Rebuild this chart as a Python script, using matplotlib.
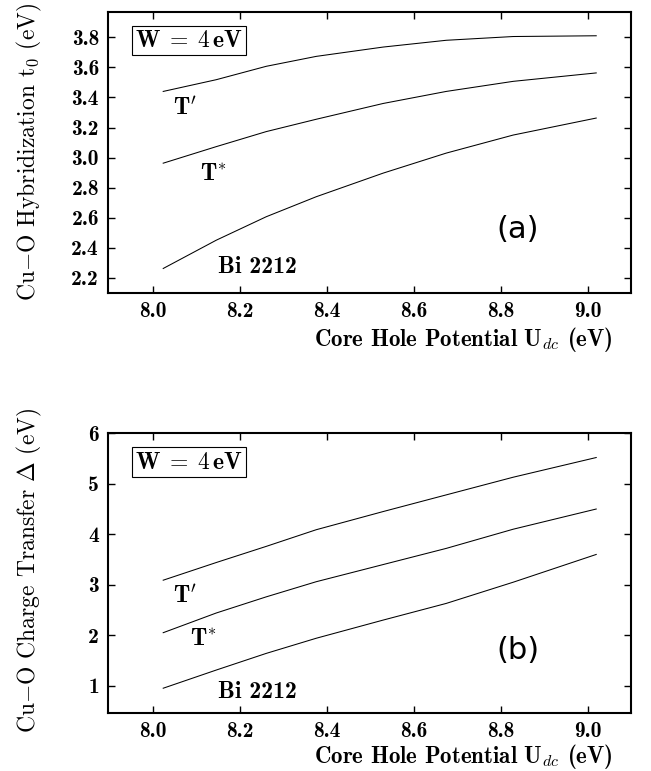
import matplotlib
matplotlib.use("Agg")
import matplotlib.pyplot as plt
import numpy as np

plt.rcParams['mathtext.fontset'] = 'cm'

# x values (core hole potential, eV)
u_dc = [8.024, 8.146, 8.261, 8.376, 8.53, 8.675, 8.829, 9.02]

# panel (a): Cu-O hybridization t0
t0_Tprime = [3.44, 3.518, 3.607, 3.673, 3.735, 3.78, 3.805, 3.81]
t0_Tstar = [2.963, 3.073, 3.173, 3.255, 3.36, 3.44, 3.507, 3.563]
t0_Bi2212 = [2.263, 2.451, 2.607, 2.74, 2.897, 3.03, 3.15, 3.263]

# panel (b): Cu-O charge transfer Delta
d_Tprime = [3.09, 3.44, 3.76, 4.09, 4.45, 4.78, 5.13, 5.52]
d_Tstar = [2.05, 2.44, 2.76, 3.06, 3.40, 3.72, 4.10, 4.50]
d_Bi2212 = [0.95, 1.31, 1.64, 1.94, 2.30, 2.63, 3.05, 3.60]

xticks = [8.0, 8.2, 8.4, 8.6, 8.8, 9.0]
xticklabels = ['8.0', '8.2', '8.4', '8.6', '8.8', '9.0']
yticks_a = [2.2, 2.4, 2.6, 2.8, 3.0, 3.2, 3.4, 3.6, 3.8]
yticklabels_a = ['2.2', '2.4', '2.6', '2.8', '3.0', '3.2', '3.4', '3.6', '3.8']
yticks_b = [1, 2, 3, 4, 5, 6]
yticklabels_b = ['1', '2', '3', '4', '5', '6']

W = 651
H = 771
fig = plt.figure(figsize=(W / 100, H / 100), dpi=100)

def frac(l, t, r, b):
    return [l / W, 1 - b / H, (r - l) / W, (b - t) / H]

ax_a = fig.add_axes(frac(108, 11.7, 631, 293))
ax_b = fig.add_axes(frac(108, 433.3, 631, 712.7))

TICKFS = 15.5
LBLFS = 16.5

def style(ax, yticks, ylabels):
    ax.set_xlim(7.897, 9.1)
    ax.set_xticks(xticks)
    ax.set_xticklabels(xticklabels, family='cmb10', fontsize=TICKFS)
    ax.set_yticks(yticks)
    ax.set_yticklabels(ylabels, family='cmb10', fontsize=TICKFS)
    ax.tick_params(direction='in', length=5, width=1.0, top=True, right=True, pad=6.5)
    for s in ax.spines.values():
        s.set_linewidth(1.5)

def wbox(ax, y):
    ax.text(0.052, y, r'$\mathbf{W} \;=\; \mathbf{4\,eV}$', transform=ax.transAxes,
            fontsize=17, ha='left', va='center',
            bbox=dict(boxstyle='square,pad=0.12', fc='white', ec='black', lw=0.8))

# panel (a)
for ys in (t0_Tprime, t0_Tstar, t0_Bi2212):
    ax_a.plot(u_dc, ys, color='black', lw=0.75)
ax_a.set_ylim(2.1, 3.97)
style(ax_a, yticks_a, yticklabels_a)
ax_a.text(8.074, 3.33, r'$\mathbf{T}^{\prime}$', fontsize=17, ha='center', va='center')
ax_a.text(8.14, 2.90, r'$\mathbf{T}^{*}$', fontsize=17, ha='center', va='center')
ax_a.text(8.24, 2.27, 'Bi 2212', family='cmb10', fontsize=17, ha='center', va='center')
ax_a.text(8.84, 2.52, '(a)', family='DejaVu Sans', fontsize=22, ha='center', va='center')
wbox(ax_a, 0.898)
ax_a.set_ylabel(r'Cu$-$O Hybridization t$_0$ (eV)', family='cmr10', fontsize=17)
ax_a.yaxis.set_label_coords(-0.122, 0.5)
ax_a.set_xlabel(r'Core Hole Potential U$_{dc}$ (eV)', family='cmb10', fontsize=LBLFS,
                ha='right')
ax_a.xaxis.set_label_coords(0.965, -0.112)

# panel (b)
for ys in (d_Tprime, d_Tstar, d_Bi2212):
    ax_b.plot(u_dc, ys, color='black', lw=0.75)
ax_b.set_ylim(0.465, 6.0)
style(ax_b, yticks_b, yticklabels_b)
ax_b.text(8.074, 2.79, r'$\mathbf{T}^{\prime}$', fontsize=17, ha='center', va='center')
ax_b.text(8.117, 1.94, r'$\mathbf{T}^{*}$', fontsize=17, ha='center', va='center')
ax_b.text(8.24, 0.87, 'Bi 2212', family='cmb10', fontsize=17, ha='center', va='center')
ax_b.text(8.84, 1.70, '(b)', family='DejaVu Sans', fontsize=22, ha='center', va='center')
wbox(ax_b, 0.897)
ax_b.set_ylabel(r'Cu$-$O Charge Transfer $\Delta$ (eV)', family='cmr10', fontsize=17)
ax_b.yaxis.set_label_coords(-0.122, 0.51)
ax_b.set_xlabel(r'Core Hole Potential U$_{dc}$ (eV)', family='cmb10', fontsize=LBLFS,
                ha='right')
ax_b.xaxis.set_label_coords(0.965, -0.106)

fig.savefig('out.png', dpi=100)
